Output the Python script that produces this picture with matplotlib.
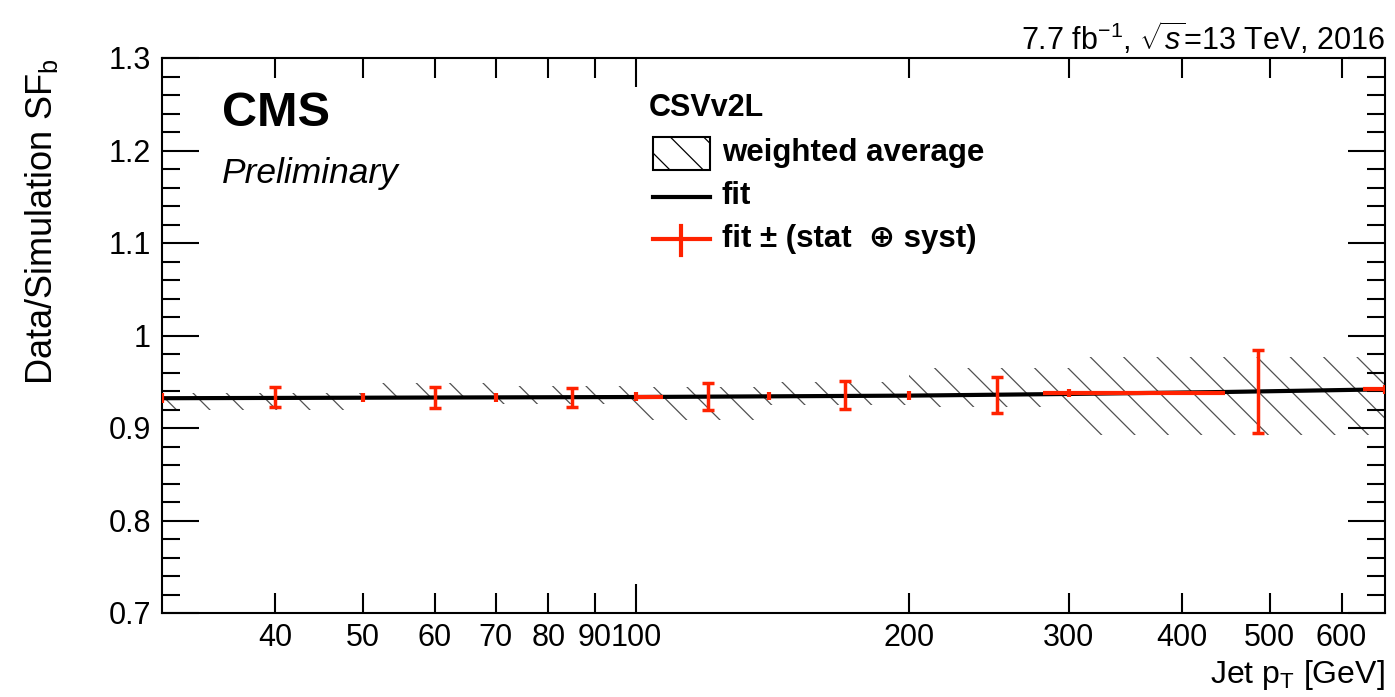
import matplotlib
matplotlib.use('Agg')
import matplotlib.pyplot as plt
from matplotlib.ticker import FixedLocator, FixedFormatter, MultipleLocator, FuncFormatter
from matplotlib.patches import Rectangle
from matplotlib.lines import Line2D
import numpy as np

plt.rcParams['font.family'] = ['Liberation Sans', 'DejaVu Sans']
plt.rcParams['mathtext.fontset'] = 'custom'
plt.rcParams['mathtext.rm'] = 'Liberation Sans'
plt.rcParams['mathtext.it'] = 'Liberation Sans:italic'
plt.rcParams['mathtext.bf'] = 'Liberation Sans:bold'
plt.rcParams['hatch.linewidth'] = 0.9

# ---------------- data ----------------
bin_edges = [30, 50, 70, 100, 140, 200, 300, 670]
wavg_sf = [0.9289, 0.9400, 0.9357, 0.9266, 0.9375, 0.9437, 0.9347]
wavg_err = [0.0094, 0.0085, 0.0097, 0.0180, 0.0125, 0.0207, 0.0423]

fit_pt = [30, 100, 200, 300, 450, 670]
fit_sf = [0.9322, 0.9335, 0.9350, 0.9368, 0.9390, 0.9418]

pt_mid = [40, 60, 85, 120, 170, 250, 485]
sf_mid = [0.9335, 0.9327, 0.9330, 0.9338, 0.9355, 0.9357, 0.9392]
err_mid = [0.0108, 0.0114, 0.0103, 0.0145, 0.0153, 0.0198, 0.0447]

pt_edge = [30, 50, 70, 100, 140, 200, 300, 670]
sf_edge = [0.9325, 0.9328, 0.9330, 0.9340, 0.9344, 0.9350, 0.9380, 0.9418]
err_edge = [0.0050, 0.0045, 0.0045, 0.0045, 0.0045, 0.0045, 0.0045, 0.0050]
xerr_lo = [0, 0, 0, 0, 0, 0, 19, 36]
xerr_hi = [0, 0, 0, 7, 0, 0, 146, 0]

x_major_ticks = [100]
x_major_labels = ['100']
x_minor_ticks = [40, 50, 60, 70, 80, 90, 200, 300, 400, 500, 600]
x_minor_labels = ['40', '50', '60', '70', '80', '90', '200', '300', '400', '500', '600']

RED = '#ff2200'
W, H = 1395, 697

def fx(x):
    return x / W

def fy(y):
    return 1 - y / H

fig = plt.figure(figsize=(W / 100, H / 100), dpi=100)
ax = fig.add_axes([fx(162), fy(613), 1223 / W, 555 / H])
ax.set_xscale('log')

# weighted average (hatched band)
lefts = np.array(bin_edges[:-1])
widths = np.diff(bin_edges)
sf = np.array(wavg_sf)
er = np.array(wavg_err)
ax.bar(lefts, 2 * er, width=widths, bottom=sf - er, align='edge',
       facecolor='none', edgecolor='#505050', linewidth=0, hatch='\\', zorder=1)

# fit line
ax.plot(fit_pt, fit_sf, color='black', lw=3, zorder=3, solid_capstyle='butt')

# fit +- (stat + syst)
ax.errorbar(pt_mid, sf_mid, yerr=err_mid, fmt='none', ecolor=RED,
            elinewidth=2.5, capsize=4, capthick=2.5, zorder=4)
ax.errorbar(pt_edge, sf_edge, yerr=err_edge, xerr=[xerr_lo, xerr_hi], fmt='none',
            ecolor=RED, elinewidth=3, capsize=0, zorder=4)

ax.set_xlim(30, 670)
ax.set_ylim(0.7, 1.3)

ax.xaxis.set_major_locator(FixedLocator(x_major_ticks))
ax.xaxis.set_major_formatter(FixedFormatter(x_major_labels))
ax.xaxis.set_minor_locator(FixedLocator(x_minor_ticks))
ax.xaxis.set_minor_formatter(FixedFormatter(x_minor_labels))
ax.yaxis.set_major_locator(MultipleLocator(0.1))
ax.yaxis.set_minor_locator(MultipleLocator(0.02))
ax.yaxis.set_major_formatter(FuncFormatter(lambda v, p: f'{round(v, 2):g}'))

ax.tick_params(which='both', direction='in', top=True, right=True, width=1.5,
               labelsize=22, colors='black')
ax.tick_params(axis='x', which='major', length=21, pad=7)
ax.tick_params(axis='x', which='minor', length=14.4, pad=7)
ax.tick_params(axis='y', which='major', length=26.6, pad=8)
ax.tick_params(axis='y', which='minor', length=13)
for s in ax.spines.values():
    s.set_linewidth(1.5)

# texts
fig.text(fx(222), fy(113), 'CMS', fontsize=35, fontweight='bold', va='center', ha='left')
fig.text(fx(222), fy(173), 'Preliminary', fontsize=25.5, style='italic', va='center', ha='left')
fig.text(fx(1385), fy(50), r'7.7 fb$^{-1}$, $\sqrt{s}$=13 TeV, 2016', ha='right',
         va='baseline', fontsize=22)
fig.text(fx(42), fy(58), r'Data/Simulation SF$_{\mathrm{b}}$', rotation=90,
         ha='center', va='top', fontsize=26)
fig.text(fx(1385), fy(683), r'Jet p$_{\mathrm{T}}$ [GeV]', ha='right', va='baseline',
         fontsize=23)

# legend
fig.text(fx(649), fy(108), 'CSVv2L', fontsize=22, fontweight='bold', va='center')
fig.add_artist(Rectangle((fx(653), fy(170)), 57 / W, 33 / H, transform=fig.transFigure,
                         facecolor='none', edgecolor='black', hatch='\\', lw=1.5))
fig.text(fx(722), fy(153), 'weighted average', fontsize=22.5, fontweight='bold', va='center')
fig.add_artist(Line2D([fx(653), fx(710)], [fy(197), fy(197)], transform=fig.transFigure,
                      color='black', lw=3))
fig.text(fx(722), fy(196), 'fit', fontsize=22.5, fontweight='bold', va='center')
fig.add_artist(Line2D([fx(653), fx(710)], [fy(239), fy(239)], transform=fig.transFigure,
                      color=RED, lw=3))
fig.add_artist(Line2D([fx(681), fx(681)], [fy(226), fy(255)], transform=fig.transFigure,
                      color=RED, lw=3))
fig.text(fx(722), fy(239), 'fit \u00b1 (stat  \u2295 syst)', fontsize=22.5, fontweight='bold',
         va='center')

fig.savefig('out.png', dpi=100)
